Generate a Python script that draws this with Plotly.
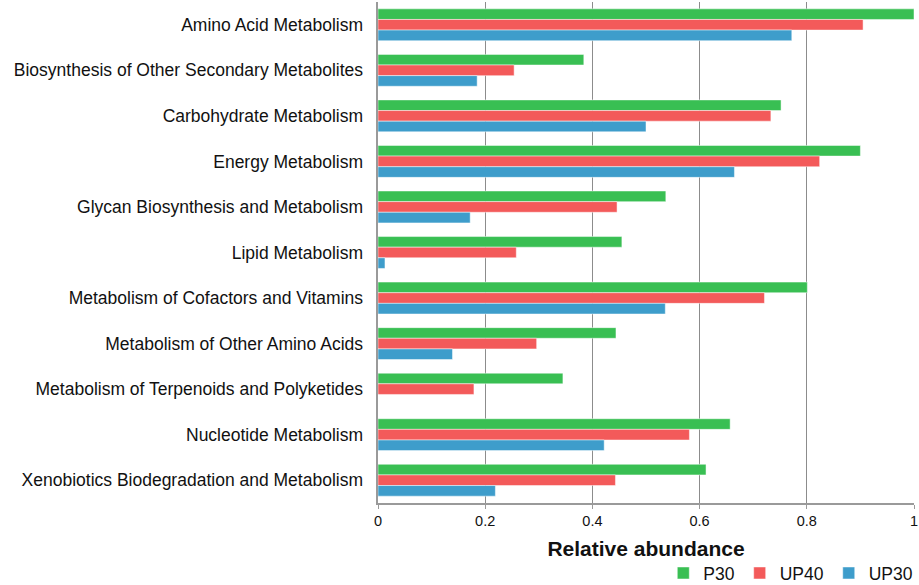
import plotly.graph_objects as go

categories = [
    "Amino Acid Metabolism",
    "Biosynthesis of Other Secondary Metabolites",
    "Carbohydrate Metabolism",
    "Energy Metabolism",
    "Glycan Biosynthesis and Metabolism",
    "Lipid Metabolism",
    "Metabolism of Cofactors and Vitamins",
    "Metabolism of Other Amino Acids",
    "Metabolism of Terpenoids and Polyketides",
    "Nucleotide Metabolism",
    "Xenobiotics Biodegradation and Metabolism",
]
p30 = [1.0, 0.384, 0.752, 0.900, 0.537, 0.455, 0.801, 0.444, 0.345, 0.657, 0.612]
up40 = [0.905, 0.254, 0.733, 0.824, 0.446, 0.258, 0.721, 0.296, 0.179, 0.581, 0.443]
up30 = [0.772, 0.185, 0.500, 0.665, 0.172, 0.013, 0.536, 0.139, 0.0, 0.422, 0.219]
tick_vals = [0, 0.2, 0.4, 0.6, 0.8, 1]
tick_text = ["0", "0.2", "0.4", "0.6", "0.8", "1"]

series = [
    ("P30", p30, "rgb(57,191,83)"),
    ("UP40", up40, "rgb(243,90,90)"),
    ("UP30", up30, "rgb(62,157,203)"),
]

fig = go.Figure()
for name, vals, color in series:
    fig.add_trace(go.Bar(
        y=categories, x=vals, name=name, orientation="h",
        marker=dict(color=color, line=dict(color="rgba(255,255,255,0.6)", width=0.8)),
    ))

fig.update_layout(
    width=919, height=585,
    margin=dict(l=378, r=5, t=2, b=82, autoexpand=False),
    barmode="group",
    bargap=0.3,
    bargroupgap=0,
    plot_bgcolor="white",
    paper_bgcolor="white",
    font=dict(family="Liberation Sans, Arial, sans-serif", color="#111"),
    legend=dict(
        orientation="h", x=1.008, xanchor="right", y=-0.104, yanchor="top",
        font=dict(size=17.5), traceorder="normal", itemwidth=30,
        tracegroupgap=0, bgcolor="rgba(0,0,0,0)",
    ),
    showlegend=True,
)
fig.update_xaxes(
    range=[0, 1], tickvals=tick_vals, ticktext=tick_text,
    showgrid=True, gridcolor="#8c8c8c", gridwidth=1,
    showline=True, linecolor="#9a9a9a", linewidth=1.5,
    ticks="outside", ticklen=4, tickcolor="#9a9a9a",
    tickfont=dict(size=14.5),
    title=dict(text="<b>Relative abundance</b>", font=dict(size=21), standoff=13),
    zeroline=False, automargin=False,
)
fig.update_yaxes(
    categoryorder="array", categoryarray=categories, autorange="reversed",
    showline=True, linecolor="#9a9a9a", linewidth=1.5,
    ticks="", tickfont=dict(size=17.5), ticksuffix="  ",
    showgrid=False, automargin=False,
)

fig.write_html(
    "out.html",
    config={"displayModeBar": False},
    post_script="document.body.style.margin='0';document.body.style.overflow='hidden';",
)
